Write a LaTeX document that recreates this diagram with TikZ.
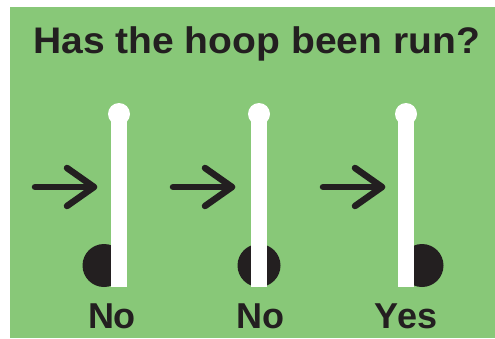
\documentclass[tikz,border=0pt]{standalone}
\usepackage{fontspec}
\setmainfont{Liberation Sans}
\definecolor{bggreen}{HTML}{88C878}
\definecolor{ink}{HTML}{231F20}
\tikzset{
  label text/.style={font=\fontsize{36}{40}\selectfont\bfseries, text=ink, inner sep=0pt, anchor=base},
  arrowline/.style={draw=ink, line width=6.5pt, line cap=round, line join=round},
  ball/.style={fill=ink},
  pole/.style={fill=white},
}
\begin{document}
\begin{tikzpicture}[x=1pt,y=-1pt]
\useasboundingbox (0,0) rectangle (495,338);
\fill[bggreen] (10,7) rectangle (495,338);
\node[label text] (title) at (256.5,53.3) {\scalebox{1.055}[1]{\fontsize{37}{40}\selectfont Has the hoop been run?}};
% posts
\foreach \cx/\off/\name in {119/-15/a, 259/0/b, 406/16/c}{
  \coordinate (ball\name) at (\cx+\off,265.5);
  \fill[ball] (ball\name) circle (21.5);
  \fill[pole] (\cx-8,114) rectangle (\cx+8,287);
  \coordinate (top\name) at (\cx,114);
  \fill[pole] (top\name) circle (11);
}
% arrows
\foreach \xs/\xt/\name in {35/94/a, 173/232/b, 323/382/c}{
  \coordinate (s\name) at (\xs,187);
  \coordinate (t\name) at (\xt,187);
  \coordinate (u\name) at (\xt-27,168);
  \coordinate (l\name) at (\xt-27,206);
  \draw[arrowline] (s\name) -- (t\name);
  \draw[arrowline] (u\name) -- (t\name) -- (l\name);
}
\node[label text] (la) at (112,328) {No};
\node[label text] (lb) at (260,328) {No};
\node[label text] (lc) at (406,328) {Yes};
\end{tikzpicture}
\end{document}
